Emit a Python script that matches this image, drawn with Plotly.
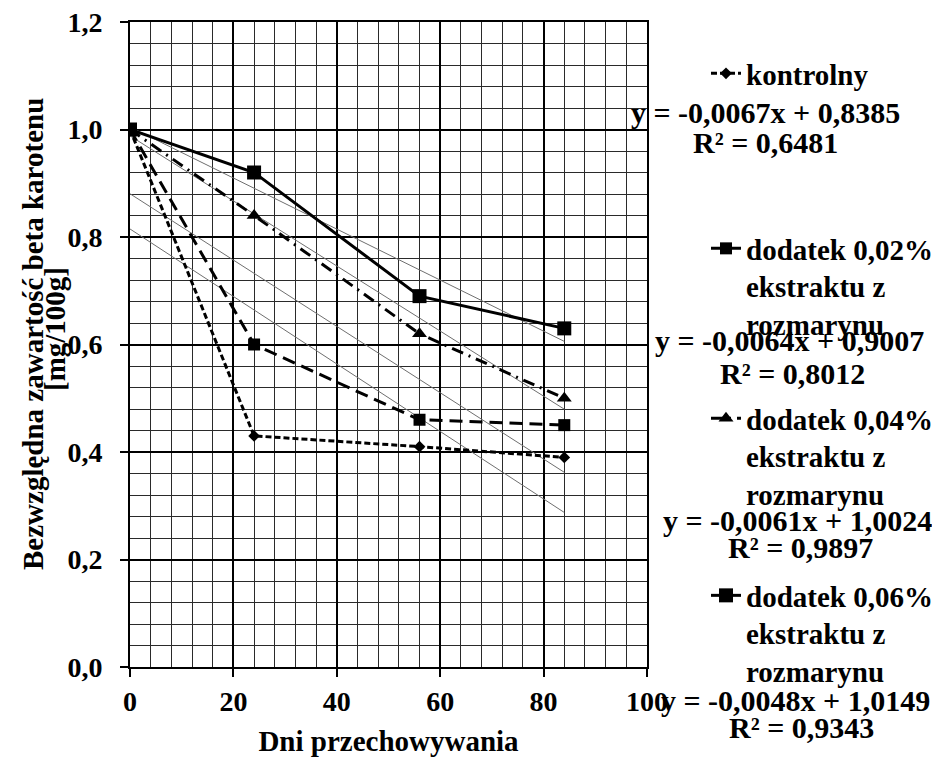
import numpy as np
import plotly.graph_objects as go

# ---- data ----
days = [0, 24, 56, 84]
kontrolny = [1.00, 0.43, 0.41, 0.39]
dodatek_002 = [1.00, 0.60, 0.46, 0.45]
dodatek_004 = [1.00, 0.84, 0.62, 0.50]
dodatek_006 = [1.00, 0.92, 0.69, 0.63]

series_names = [
    "kontrolny",
    "dodatek 0,02%<br>ekstraktu z<br>rozmarynu",
    "dodatek 0,04%<br>ekstraktu z<br>rozmarynu",
    "dodatek 0,06%<br>ekstraktu z<br>rozmarynu",
]
equations = [
    "y = -0,0067x + 0,8385",
    "y = -0,0064x + 0,9007",
    "y = -0,0061x + 1,0024",
    "y = -0,0048x + 1,0149",
]
r2_labels = ["R² = 0,6481", "R² = 0,8012", "R² = 0,9897", "R² = 0,9343"]

x_ticks = [0, 20, 40, 60, 80, 100]
y_ticks = [0.0, 0.2, 0.4, 0.6, 0.8, 1.0, 1.2]

FONT = "Liberation Serif, Times New Roman, serif"
FS = 28
FS_LEG = 29
FS_EQ = 30

all_series = [kontrolny, dodatek_002, dodatek_004, dodatek_006]
dashes = ["6px,3px", "13px,7px", "12px,6px,2px,6px", "solid"]
symbols = ["diamond", "square", "triangle-up", "square"]
msizes = [9, 12, 13, 14]
legends = ["legend", "legend2", "legend3", "legend4"]

fig = go.Figure()

# trendlines (linear fits of each series)
for vals in all_series:
    a, b = np.polyfit(days, vals, 1)
    xs = np.array([days[0], days[-1]])
    fig.add_trace(go.Scatter(
        x=xs, y=a * xs + b, mode="lines",
        line=dict(color="#6f6f6f", width=1),
        showlegend=False, hoverinfo="skip"))

for vals, name, dash, sym, ms, lg in zip(all_series, series_names, dashes,
                                          symbols, msizes, legends):
    fig.add_trace(go.Scatter(
        x=days, y=vals, mode="lines+markers", name=name, legend=lg,
        line=dict(color="black", width=3, dash=dash),
        marker=dict(symbol=sym, size=ms, color="black"),
    ))

# page body has an 8px margin; positions below are given in screenshot pixels
OFF = 8
PL, PR, PT, PB = 130, 647, 22, 667  # plot area in screenshot pixels
def xp(px):
    return (px - PL) / (PR - PL)
def yp(py):
    return (PB - py) / (PB - PT)

legend_common = dict(
    font=dict(family=FONT, size=FS_LEG, color="black", weight="bold"),
    bgcolor="rgba(0,0,0,0)", borderwidth=0, valign="top",
    xanchor="left", yanchor="top",
)
legend_tops = [48, 223, 393, 570]
layout_legends = {}
for lg, top in zip(legends, legend_tops):
    layout_legends[lg] = dict(x=xp(706), y=yp(top), **legend_common)

annotations = []
eq_pos = [(765, 113), (789, 340), (797, 520), (795, 700)]
r2_pos = [(765, 142), (792, 373), (800, 547), (801, 727)]
for eq, r2, (ex, ey), (rx, ry) in zip(equations, r2_labels, eq_pos, r2_pos):
    for txt, cx, cy in ((eq, ex, ey), (r2, rx, ry)):
        annotations.append(dict(
            text=txt, x=xp(cx), y=yp(cy), xref="paper", yref="paper",
            xanchor="center", yanchor="middle", align="center", showarrow=False,
            font=dict(family=FONT, size=FS_EQ, color="black", weight="bold")))

annotations.append(dict(
    text="Bezwzględna zawartość beta karotenu", textangle=-90,
    x=xp(33), y=yp(334), xref="paper", yref="paper",
    xanchor="center", yanchor="middle", showarrow=False,
    font=dict(family=FONT, size=29, color="black", weight="bold")))
annotations.append(dict(
    text="[mg/100g]", textangle=-90,
    x=xp(55), y=yp(329), xref="paper", yref="paper",
    xanchor="center", yanchor="middle", showarrow=False,
    font=dict(family=FONT, size=29, color="black", weight="bold")))

tickfont = dict(family=FONT, size=FS, color="black", weight="bold")

fig.update_layout(
    width=940, height=757,
    margin=dict(l=PL - OFF, r=940 - (PR - OFF), t=PT - OFF, b=757 - (PB - OFF),
                autoexpand=False),
    paper_bgcolor="white", plot_bgcolor="white",
    separators=", ",
    annotations=annotations,
    **layout_legends,
)
fig.update_xaxes(
    range=[0, 100], tickvals=x_ticks, ticks="outside", ticklen=8, tickwidth=2,
    tickcolor="black", showline=True, linecolor="black", linewidth=2, mirror=True,
    showgrid=True, gridcolor="black", gridwidth=2, zeroline=False,
    minor=dict(dtick=4, tick0=0, showgrid=True, gridcolor="#2a2a2a", gridwidth=1),
    tickfont=tickfont, ticklabeloverflow="allow",
    title=dict(text="Dni przechowywania", standoff=15,
               font=dict(family=FONT, size=29, color="black", weight="bold")),
)
fig.update_yaxes(
    range=[0, 1.2], tickvals=y_ticks, tickformat=".1f", ticks="outside", ticklen=8,
    tickwidth=2, tickcolor="black", showline=True, linecolor="black", linewidth=2,
    mirror=True, showgrid=True, gridcolor="black", gridwidth=2, zeroline=False,
    minor=dict(dtick=0.04, tick0=0, showgrid=True, gridcolor="#2a2a2a", gridwidth=1),
    tickfont=tickfont, ticklabelstandoff=12, ticklabeloverflow="allow",
)

fig.write_html("out.html")
